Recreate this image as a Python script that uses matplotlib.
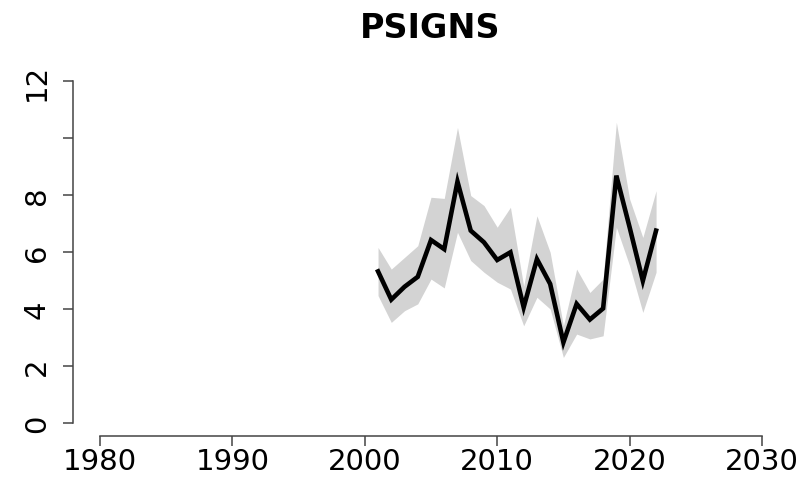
import matplotlib
matplotlib.use("Agg")
import matplotlib.pyplot as plt

years = list(range(2001, 2023))
index = [5.32, 4.33, 4.78, 5.13, 6.42, 6.10, 8.47, 6.75, 6.34, 5.72, 5.99,
         4.06, 5.75, 4.88, 2.83, 4.18, 3.63, 4.02, 8.68, 6.87, 4.99, 6.75]
upper = [6.16, 5.40, 5.81, 6.22, 7.92, 7.88, 10.37, 7.98, 7.63, 6.87, 7.57,
         4.80, 7.27, 5.99, 3.41, 5.40, 4.58, 5.05, 10.55, 7.86, 6.51, 8.15]
lower = [4.47, 3.53, 3.94, 4.18, 5.05, 4.74, 6.69, 5.70, 5.29, 4.94, 4.70,
         3.41, 4.41, 4.00, 2.30, 3.12, 2.95, 3.06, 6.87, 5.52, 3.88, 5.29]
x_ticks = [1980, 1990, 2000, 2010, 2020, 2030]
y_ticks = [0, 2, 4, 6, 8, 10, 12]
y_tick_labels = ["0", "2", "4", "6", "8", "", "12"]
title = "PSIGNS"

W, H = 808, 481
fig = plt.figure(figsize=(W / 100, H / 100), dpi=100)
left_px, right_px, top_px, bottom_px = 73, 775, 70, 437
ax = fig.add_axes([left_px / W, 1 - bottom_px / H,
                   (right_px - left_px) / W, (bottom_px - top_px) / H])

xpx = 13.24
ypx = 28.5
ax.set_xlim(1980 - (100 - left_px) / xpx, 2030 + (right_px - 762) / xpx)
ax.set_ylim(-(bottom_px - 424) / ypx, 12 + (424 - top_px - 12 * ypx) / ypx)

ax.fill_between(years, lower, upper, color="#d3d3d3", linewidth=0)
ax.plot(years, index, color="black", linewidth=3.3, solid_joinstyle="miter")

for s in ["top", "right"]:
    ax.spines[s].set_visible(False)
ax.spines["left"].set_bounds(0, 12)
ax.spines["bottom"].set_bounds(1980, 2030)
for s in ["left", "bottom"]:
    ax.spines[s].set_color("#444444")
    ax.spines[s].set_linewidth(1.1)

ax.set_xticks(x_ticks)
ax.set_xticklabels([str(v) for v in x_ticks])
ax.set_yticks(y_ticks)
ax.set_yticklabels(y_tick_labels)
ax.tick_params(axis="both", length=7, width=1.1, color="#444444",
               labelsize=21, labelcolor="black")
ax.tick_params(axis="x", pad=1)
ax.tick_params(axis="y", pad=9, labelrotation=90)
for lab in ax.get_yticklabels():
    lab.set_va("center")

fig.text(430 / W, 1 - 38 / H, title, ha="center", va="baseline",
         fontsize=24, fontweight="bold")

fig.savefig("out.png", dpi=100)
